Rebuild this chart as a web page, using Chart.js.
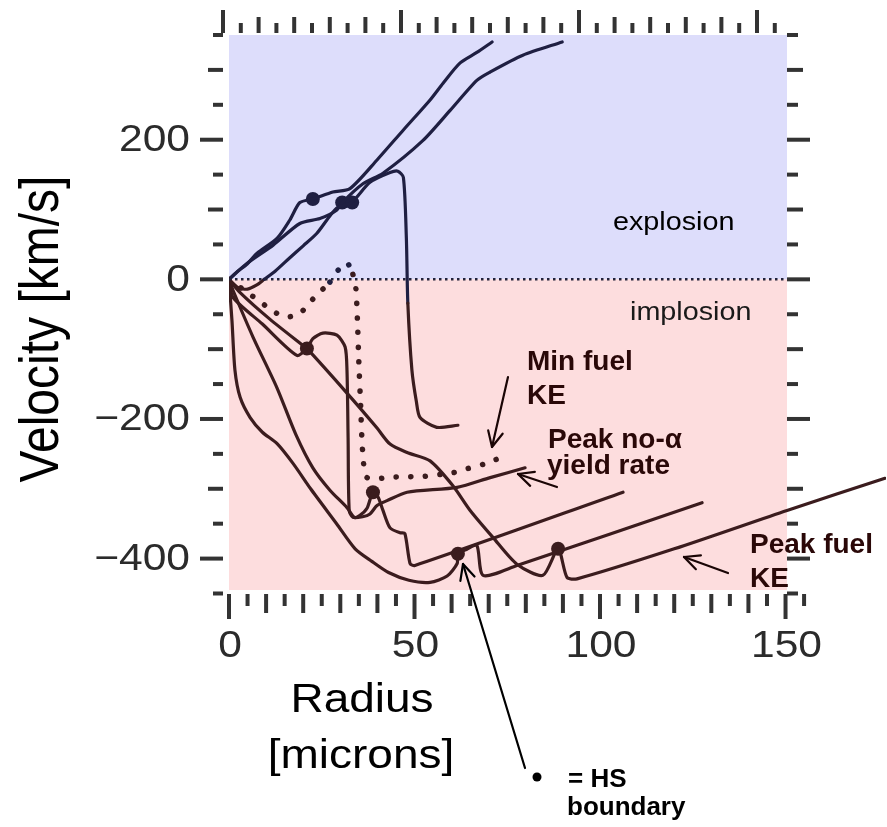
<!DOCTYPE html>
<html>
<head>
<meta charset="utf-8">
<script src="https://cdn.jsdelivr.net/npm/chart.js@4.4.1/dist/chart.umd.min.js"></script>
<style>
html,body{margin:0;padding:0;background:#fff;}
#wrap{width:887px;height:827px;position:relative;}
</style>
</head>
<body>
<div id="wrap"><canvas id="c" width="887" height="827"></canvas></div>
<script>
// ---------------- DATA (radius in microns, velocity in km/s) ----------------
const xTickLabels = [0, 50, 100, 150];
const yTickLabels = [200, 0, -200, -400];
const frameX = [0, 150.4];     // radius range of the shaded frame
const frameY = [-445, 350];    // velocity range of the shaded frame

// "Peak fuel KE" snapshot
const peakFuelKE_r = [0, 3, 11, 20, 21, 31.8, 39.9, 43.4, 48, 54.2, 60.4, 65, 71.2, 77.6, 84.6, 88.7, 91.1, 93.8, 120, 150.4, 176.8];
const peakFuelKE_v = [0, -19, -57, -95, -99, -163, -213, -236, -248, -260, -296, -331, -370, -408, -424, -386, -427, -429, -386, -331, -285];

// snapshot ending at r ~ 127
const snapB_r = [0, 0.8, 1.6, 3, 5.7, 9, 12.9, 17.3, 22, 29, 34, 38.5, 43, 48.5, 54.2, 58.8, 61.5, 61.7, 64, 66.8, 68.5, 77.6, 127.5];
const snapB_v = [0, -59, -130, -169, -198, -219, -235, -264, -300, -350, -386, -404, -420, -431, -434, -425, -407, -393, -387, -381, -424, -410, -320];

// snapshot ending at r ~ 106
const snapC_r = [0, 1.1, 6.5, 12.9, 18, 22.6, 27.2, 31.8, 33.8, 35.3, 37.2, 38.8, 40.2, 41.5, 43.4, 46.1, 47.4, 48.8, 50.1, 106.2];
const snapC_v = [0, -16, -83, -155, -222, -270, -302, -327, -341, -338, -328, -305, -312, -331, -356, -363, -364, -407, -410, -305];

// "Peak no-alpha yield rate" snapshot
const peakNoAlpha_r = [0, 1.1, 9, 18.3, 21, 22.6, 25.3, 29.1, 31.3, 31.8, 32.1, 32.4, 33.4, 36, 38, 39.9, 42.6, 48, 61.5, 70.4, 79.8];
const peakNoAlpha_v = [0, -26, -64, -109, -99, -85, -77, -80, -97, -130, -227, -331, -341, -340, -336, -324, -317, -305, -298, -284, -270];

// "Min fuel KE" snapshot (dotted)
const minFuelKE_r = [0, 4.5, 8.9, 11.9, 15.6, 19.1, 21.6, 24.3, 27.2, 29.4, 31.8, 33.4, 34.2, 34.6, 35, 35.5, 36, 37.2, 45, 52.8, 60.4, 64.4, 68.5, 72];
const minFuelKE_v = [0, -17, -34, -46, -54, -49, -34, -19, -4, 13, 24, 7, -13, -56, -119, -183, -245, -284, -283, -282, -277, -271, -265, -258];

// transitional snapshot (rises to +155 then falls)
const snapF_r = [0, 2.5, 5, 7.5, 9.5, 12.5, 16.4, 20, 23.7, 29, 33, 38, 43.4, 45.5, 47, 47.8, 48.2, 49.3, 50.5, 51.5, 56, 61.7];
const snapF_v = [0, -12, -14, -8, 0, 12, 31, 48, 66, 102, 110, 139, 153, 155, 146, 60, -34, -130, -175, -198, -212, -209];

// explosion snapshots
const explA_r = [0, 2, 4.9, 7.5, 13, 16.4, 19.1, 22.6, 28, 32.6, 39.9, 47, 54.2, 57.7, 62.3, 66.8, 70.9];
const explA_v = [0, 10, 22, 37, 59, 85, 110, 115, 125, 130, 171, 214, 257, 281, 310, 325, 340];
const explB_r = [0, 4.9, 11.9, 19.1, 24.5, 29, 30.5, 36.1, 41.5, 52.3, 59.6, 66.8, 70.4, 79.2, 89.8];
const explB_v = [0, 23, 49, 80, 87, 99, 110, 137, 152, 199, 242, 285, 297, 321, 340];

// hot-spot boundary markers
const hsDot_r = [22.6, 30.5, 33.2, 21, 38.8, 61.7, 88.7];
const hsDot_v = [115, 110, 110, -99, -305, -393, -386];

// zero reference line
const zero_r = [0, 150.4];
const zero_v = [0, 0];

// ---------------- STYLE ----------------
const NAVY = '#1f1f42';
const BROWN = '#3b1c1e';
const TICK = '#333333';

function pts(xs, ys){ return xs.map((x,i)=>({x:x, y:ys[i]})); }
function curve(xs, ys, extra){
  return Object.assign({
    type:'scatter', showLine:true, data:pts(xs,ys),
    borderWidth:3.2, tension:0.25, pointRadius:0, pointHoverRadius:0,
    borderCapStyle:'round', borderJoinStyle:'round', borderColor:BROWN,
    segment:{ borderColor: c => ((c.p0.parsed.y + c.p1.parsed.y)/2 >= 0 ? NAVY : BROWN) }
  }, extra || {});
}

const bgPlugin = {
  id:'bgzones',
  beforeDatasetsDraw(chart){
    const {ctx, scales} = chart;
    const x = scales.x, y = scales.y;
    const l = x.getPixelForValue(frameX[0]), r = x.getPixelForValue(frameX[1]);
    const t = y.getPixelForValue(frameY[1]), b = y.getPixelForValue(frameY[0]);
    const y0 = y.getPixelForValue(0);
    ctx.save();
    ctx.fillStyle = 'rgb(221,221,251)';
    ctx.fillRect(l, t, r-l, y0-t);
    ctx.fillStyle = 'rgb(253,221,222)';
    ctx.fillRect(l, y0, r-l, b-y0);
    ctx.restore();
  }
};

function txt(ctx, s, x, y, font, color, align, sx, base){
  ctx.save();
  ctx.font = font; ctx.fillStyle = color;
  ctx.textAlign = align || 'left';
  ctx.textBaseline = base || 'alphabetic';
  ctx.translate(x, y); ctx.scale(sx || 1, 1);
  ctx.fillText(s, 0, 0);
  ctx.restore();
}
function seg(ctx, x1, y1, x2, y2){ ctx.beginPath(); ctx.moveTo(x1,y1); ctx.lineTo(x2,y2); ctx.stroke(); }
function arrow(ctx, x1, y1, x2, y2, color){
  ctx.save(); ctx.strokeStyle = color; ctx.lineWidth = 2.2; ctx.lineCap='round';
  seg(ctx, x1, y1, x2, y2);
  const ang = Math.atan2(y1-y2, x1-x2), L = 17, w = 0.45;
  seg(ctx, x2, y2, x2 + L*Math.cos(ang+w), y2 + L*Math.sin(ang+w));
  seg(ctx, x2, y2, x2 + L*Math.cos(ang-w), y2 + L*Math.sin(ang-w));
  ctx.restore();
}

const framePlugin = {
  id:'frame',
  afterDraw(chart){
    const {ctx, scales} = chart;
    const x = scales.x, y = scales.y, x2 = scales.x2;
    const L = x.getPixelForValue(frameX[0]) - 6, R = x.getPixelForValue(frameX[1]);
    const T = y.getPixelForValue(frameY[1]) - 2, B = y.getPixelForValue(frameY[0]) + 4;
    ctx.save();
    ctx.strokeStyle = TICK; ctx.lineWidth = 4; ctx.lineCap = 'butt';
    for (let v = -450; v <= 350; v += 50){
      const py = y.getPixelForValue(v);
      const ll = v % 200 === 0 ? 23 : (v % 100 === 0 ? 15 : 10);
      seg(ctx, L-ll, py, L, py);
      const rl = v % 200 === 0 ? 23 : (v % 100 === 0 ? 16 : 11);
      seg(ctx, R, py, R+rl, py);
    }
    for (let v = 0; v <= 155; v += 5){
      const tl = v % 50 === 0 ? 23 : (v % 10 === 0 ? 16 : 10);
      const px = x2.getPixelForValue(v);
      seg(ctx, px, T-tl, px, T);
      const bl = v % 50 === 0 ? 25 : (v % 10 === 0 ? 19 : 12);
      const bx = x.getPixelForValue(v);
      seg(ctx, bx, B, bx, B+bl);
    }
    ctx.restore();

    const tf = '37px "Liberation Sans", Arial, sans-serif';
    yTickLabels.forEach(v => {
      const s = v < 0 ? '\u2212' + Math.abs(v) : String(v);
      txt(ctx, s, 190, y.getPixelForValue(v) + 1, tf, '#2b2b2b', 'right', 1.15, 'middle');
    });
    xTickLabels.forEach(v => {
      txt(ctx, String(v), x.getPixelForValue(v) + 1, 657, tf, '#2b2b2b', 'center', 1.15);
    });

    // axis titles
    ctx.save();
    ctx.translate(43, 329); ctx.rotate(-Math.PI/2); ctx.scale(1, 1.15);
    ctx.font = '48px "Liberation Sans", Arial, sans-serif'; ctx.fillStyle = '#000';
    ctx.textAlign = 'center'; ctx.textBaseline = 'middle';
    ctx.fillText('Velocity [km/s]', 0, 0);
    ctx.restore();
    const af = '40px "Liberation Sans", Arial, sans-serif';
    txt(ctx, 'Radius', 362, 712, af, '#000', 'center', 1.15);
    txt(ctx, '[microns]', 361, 768, af, '#000', 'center', 1.15);

    // zone labels
    const zf = '25px "Liberation Sans", Arial, sans-serif';
    txt(ctx, 'explosion', 613, 230, zf, '#000', 'left', 1.15);
    txt(ctx, 'implosion', 630, 320, zf, '#1a1a1a', 'left', 1.15);

    // bold annotations
    const bf = 'bold 28px "Liberation Sans", Arial, sans-serif';
    const AC = '#2a0808';
    txt(ctx, 'Min fuel', 527, 370, bf, AC);
    txt(ctx, 'KE', 527, 404, bf, AC);
    txt(ctx, 'Peak no-\u03b1', 548, 448, bf, AC);
    txt(ctx, 'yield rate', 547, 474, bf, AC);
    txt(ctx, 'Peak fuel', 750, 553, bf, AC);
    txt(ctx, 'KE', 750, 587, bf, AC);
    const hf = 'bold 26px "Liberation Sans", Arial, sans-serif';
    txt(ctx, '= HS', 568, 787, hf, '#000');
    txt(ctx, 'boundary', 567, 815, hf, '#000');
    ctx.save(); ctx.fillStyle = '#000'; ctx.beginPath(); ctx.arc(537, 777, 4.5, 0, Math.PI*2); ctx.fill(); ctx.restore();

    // arrows
    arrow(ctx, 508, 377, 492, 447, '#1a0505');
    arrow(ctx, 557, 487, 518, 474, '#1a0505');
    arrow(ctx, 728, 573, 684, 557, '#1a0505');
    arrow(ctx, 525, 768, 463, 564, '#000');
  }
};

const datasets = [
  curve(zero_r, zero_v, {borderWidth:2.5, borderDash:[2.5,3.5], borderCapStyle:'butt', tension:0, segment:undefined, borderColor:'#22223a'}),
  curve(peakFuelKE_r, peakFuelKE_v),
  curve(snapB_r, snapB_v),
  curve(snapC_r, snapC_v),
  curve(peakNoAlpha_r, peakNoAlpha_v),
  curve(snapF_r, snapF_v),
  curve(explA_r, explA_v),
  curve(explB_r, explB_v),
  curve(minFuelKE_r, minFuelKE_v, {borderDash:[0.1,14.5], borderWidth:5.5, tension:0.2}),
  {
    type:'scatter', showLine:false, data:pts(hsDot_r, hsDot_v),
    pointRadius:7, pointHoverRadius:7, pointBorderWidth:0,
    pointBackgroundColor: c => (c.raw && c.raw.y >= 0 ? NAVY : BROWN)
  }
];

new Chart(document.getElementById('c'), {
  type:'scatter',
  data:{ datasets: datasets },
  options:{
    responsive:false, animation:false, devicePixelRatio:1, events:[],
    layout:{ autoPadding:false, padding:{ left:229, right:1, top:35, bottom:237 } },
    plugins:{ legend:{display:false}, tooltip:{enabled:false} },
    scales:{
      x:{ type:'linear', min:0, max:177.08, display:false },
      x2:{ type:'linear', axis:'x', position:'top', min:1.685, max:186.24, display:false },
      y:{ type:'linear', min:-445, max:350, display:false }
    }
  },
  plugins:[bgPlugin, framePlugin]
});
</script>
</body>
</html>
